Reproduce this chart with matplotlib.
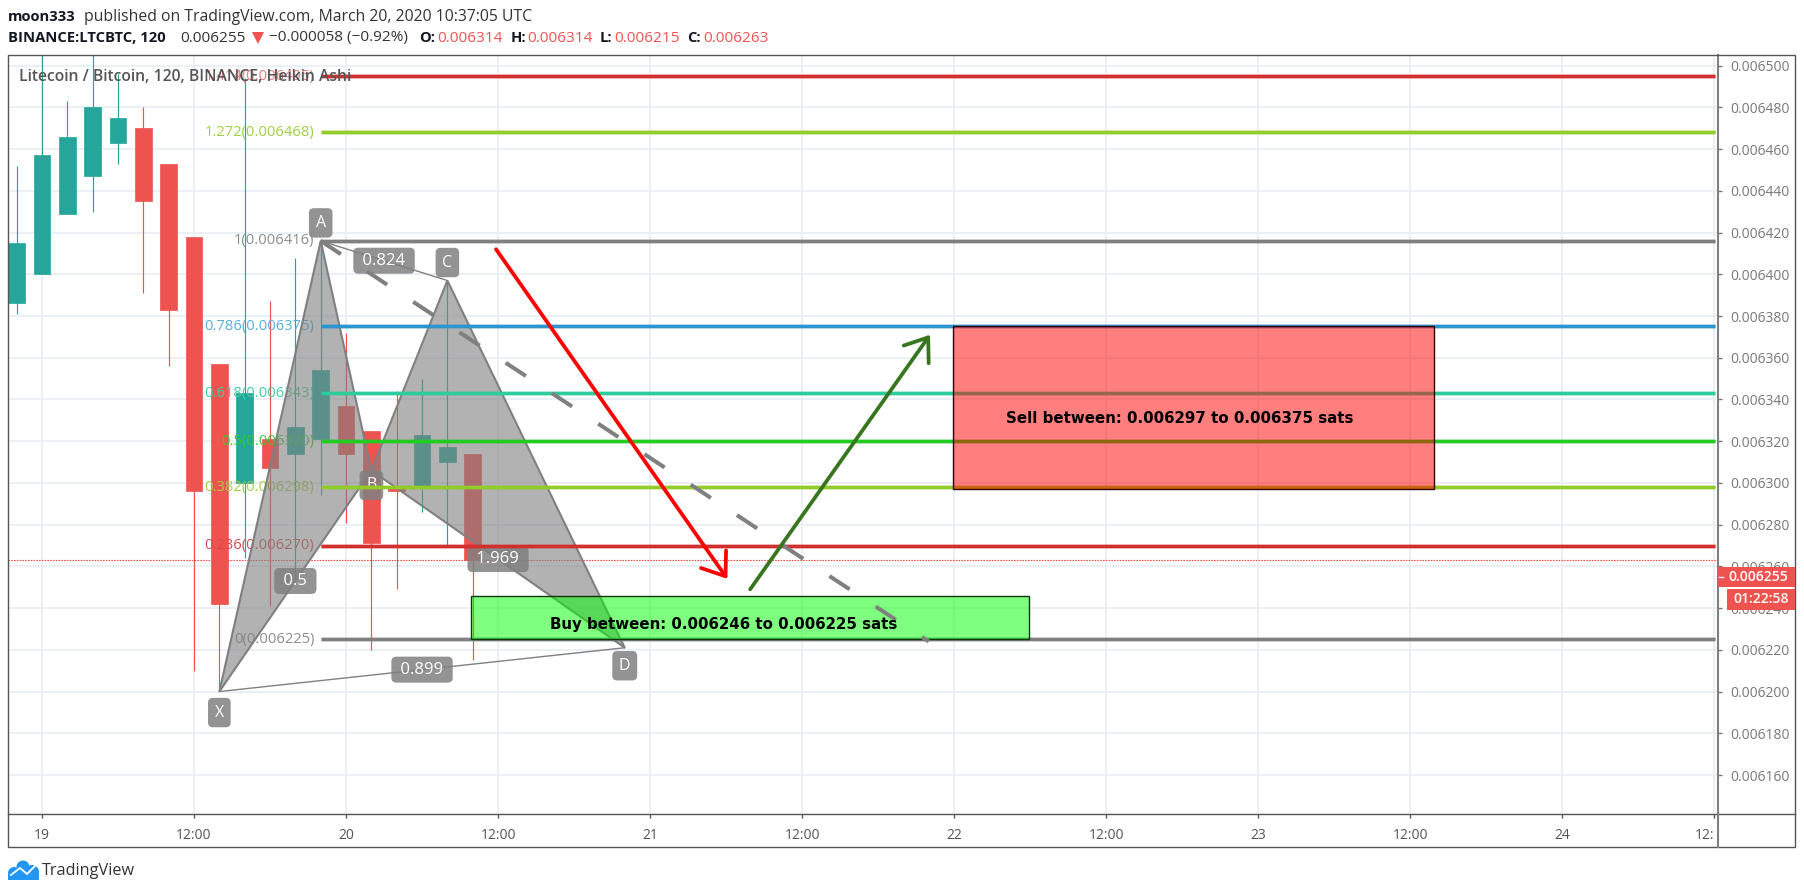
import matplotlib
matplotlib.use('Agg')
import matplotlib.pyplot as plt
from matplotlib.patches import Rectangle, Polygon, Circle
from matplotlib.lines import Line2D
from matplotlib.transforms import Affine2D

# candles, x is hours after 19 March 00:00
hours = [-2, 0, 2, 4, 6, 8, 10, 12, 14, 16, 18, 20, 22, 24, 26, 28, 30, 32, 34]
opens = [0.006386, 0.006400, 0.006429, 0.006447, 0.006463, 0.006470, 0.006453, 0.006418, 0.006357, 0.006300,
         0.006321, 0.006314, 0.006321, 0.006337, 0.006325, 0.006298, 0.006298, 0.006310, 0.006314]
closes = [0.006415, 0.006457, 0.006466, 0.006480, 0.006475, 0.006435, 0.006383, 0.006296, 0.006242, 0.006343,
          0.006307, 0.006327, 0.006354, 0.006314, 0.006271, 0.006296, 0.006323, 0.006317, 0.006263]
highs = [0.006452, 0.006520, 0.006483, 0.006520, 0.006496, 0.006480, 0.006453, 0.006418, 0.006357, 0.006494,
         0.006387, 0.006408, 0.006417, 0.006372, 0.006325, 0.006344, 0.006350, 0.006397, 0.006314]
lows = [0.006381, 0.006400, 0.006429, 0.006430, 0.006453, 0.006391, 0.006356, 0.006210, 0.006201, 0.006264,
        0.006241, 0.006251, 0.006294, 0.006281, 0.006220, 0.006249, 0.006286, 0.006270, 0.006215]

# fib levels
fib_ratios = ['1.414', '1.272', '1', '0.786', '0.618', '0.5', '0.382', '0.236', '0']
fib_prices = [0.006495, 0.006468, 0.006416, 0.006375, 0.006343, 0.006320, 0.006298, 0.006270, 0.006225]
fib_start = 22

# harmonic pattern points
pattern_names = ['X', 'A', 'B', 'C', 'D']
pattern_hours = [14, 22, 26, 32, 46]
pattern_prices = [0.006200, 0.006416, 0.006306, 0.006397, 0.006221]

# boxes and arrows
sell_zone = [71.9, 109.9, 0.006297, 0.006375]
buy_zone = [33.9, 77.9, 0.006225, 0.006246]
red_arrow = [35.84, 0.006412, 54.1, 0.006254]
green_arrow = [55.9, 0.006249, 70.1, 0.006371]
dash_line = [22, 0.006416, 70.0, 0.006224]
last_close = 0.006263

price_ticks = [0.00616, 0.00618, 0.00620, 0.00622, 0.00624, 0.00626, 0.00628, 0.00630, 0.00632, 0.00634,
               0.00636, 0.00638, 0.00640, 0.00642, 0.00644, 0.00646, 0.00648, 0.00650]
time_ticks = [0, 12, 24, 36, 48, 60, 72, 84, 96, 108, 120, 132]
time_labels = ['19', '12:00', '20', '12:00', '21', '12:00', '22', '12:00', '23', '12:00', '24', '12:']

# colours
teal = '#26a69a'
red = '#ef5350'
fib_colors = ['#d32f2f', '#93cc28', '#808080', '#2c94cf', '#2ecc9a', '#22cc22', '#93cc28', '#d32f2f', '#808080']
label_colors = ['#ea7a7a', '#9ed040', '#8c8c8c', '#55aee0', '#3ccfa0', '#33cc33', '#a4d040', '#d84a4a', '#8c8c8c']
grid_color = '#e6eef5'
font = 'Open Sans'

plt.rcParams['font.family'] = [font, 'DejaVu Sans']

W, H = 1804, 894
fig = plt.figure(figsize=(W / 100, H / 100), dpi=100, facecolor='white')
ax = fig.add_axes([8 / W, (H - 814) / H, 1710 / W, 759 / H])
# pixel coordinates for the page furniture
page = Affine2D().scale(1, -1).translate(0, H)

ax.set_xlim(-2.684, 132.3)
ax.set_ylim(0.00614131, 0.0065051)
ax.set_axisbelow(True)
ax.grid(True, color=grid_color, linewidth=1.2)

# candles
candle_colors = [teal if c >= o else red for o, c in zip(opens, closes)]
ax.vlines(hours, lows, highs, colors=candle_colors, linewidth=0.85, zorder=2)
ax.bar(hours, [abs(c - o) for o, c in zip(opens, closes)], bottom=[min(o, c) for o, c in zip(opens, closes)],
       width=1.3, color=candle_colors, edgecolor=candle_colors, linewidth=0.5, zorder=2)

ax.axhline(last_close, color='#ef5350', linewidth=0.8, linestyle=(0, (1.5, 1)), zorder=2)

# fib labels left of the lines
for ratio, price, col in zip(fib_ratios, fib_prices, label_colors):
    ax.annotate(f'{ratio}({price:.6f})', (fib_start, price), xytext=(-4.5, 0), textcoords='offset points',
                ha='right', va='center', color=col, fontsize=10.6, zorder=3)

# pattern triangles
pts = list(zip(pattern_hours, pattern_prices))
for tri in ([pts[0], pts[1], pts[2]], [pts[2], pts[3], pts[4]]):
    ax.add_patch(Polygon(tri, closed=True, facecolor='#808080', alpha=0.6, edgecolor='none', zorder=4))
    ax.add_patch(Polygon(tri, closed=True, fill=False, edgecolor='#808080', linewidth=1.5, zorder=4))
ax.plot([pts[0][0], pts[4][0]], [pts[0][1], pts[4][1]], color='#808080', linewidth=1, zorder=4)
ax.plot([pts[1][0], pts[3][0]], [pts[1][1], pts[3][1]], color='#808080', linewidth=1, zorder=4)

# letter and ratio tags
letter_box = dict(boxstyle='round,pad=0.42,rounding_size=0.3', facecolor='#808080', alpha=0.85, edgecolor='none')
tag_box = dict(boxstyle='round,pad=0.3,rounding_size=0.3', facecolor='#808080', alpha=0.85, edgecolor='none')
offsets = {'X': -21, 'A': 18, 'B': -15, 'C': 18, 'D': -18}
for name, x, y in zip(pattern_names, pattern_hours, pattern_prices):
    ax.annotate(name, (x, y), xytext=(0, offsets[name] * 0.72), textcoords='offset points', ha='center',
                va='center', color='white', fontsize=11.5, bbox=letter_box, zorder=4.5)


def mid_tag(a, b, txt):
    ax.text((pts[a][0] + pts[b][0]) / 2, (pts[a][1] + pts[b][1]) / 2, ' ' + txt + ' ', ha='center', va='center',
            color='white', fontsize=12, bbox=tag_box, zorder=4.5)


mid_tag(1, 3, '0.824')
mid_tag(0, 2, '0.5')
mid_tag(2, 4, '1.969')
mid_tag(0, 4, '0.899')

# fib lines
ax.hlines(fib_prices, fib_start, 132.05, colors=fib_colors, linewidth=3.4, alpha=0.35, zorder=5)
ax.hlines(fib_prices, fib_start, 132.05, colors=fib_colors, linewidth=2.3, zorder=5)

# zones
ax.add_patch(Rectangle((sell_zone[0], sell_zone[2]), sell_zone[1] - sell_zone[0], sell_zone[3] - sell_zone[2],
                       facecolor=(1, 0, 0, 0.5), edgecolor='#3a0000', linewidth=1, zorder=6))
ax.add_patch(Rectangle((buy_zone[0], buy_zone[2]), buy_zone[1] - buy_zone[0], buy_zone[3] - buy_zone[2],
                       facecolor=(0, 1, 0, 0.5), edgecolor='#0a3a0a', linewidth=1, zorder=6))
ax.text(89.8, 0.006331, 'Sell between: 0.006297 to 0.006375 sats', ha='center', va='center', color='black',
        fontsize=10.85, fontweight='bold', family='DejaVu Sans', zorder=7)
ax.text(53.84, 0.006232, 'Buy between: 0.006246 to 0.006225 sats', ha='center', va='center', color='black',
        fontsize=10.85, fontweight='bold', family='DejaVu Sans', zorder=7)

# dashed line and arrows
ax.plot([dash_line[0], dash_line[2]], [dash_line[1], dash_line[3]], color='#808080', linewidth=2.9,
        linestyle=(0, (6, 7.75)), dash_capstyle='butt', zorder=6.5)
for arr, col in ((red_arrow, '#ff0000'), (green_arrow, '#38761d')):
    ax.annotate('', xy=(arr[2], arr[3]), xytext=(arr[0], arr[1]),
                arrowprops=dict(arrowstyle='->,head_length=15,head_width=11', mutation_scale=1, color=col,
                                linewidth=2.7, shrinkA=0, shrinkB=0), zorder=7)

ax.text(19, 77, 'Litecoin / Bitcoin, 120, BINANCE, Heikin Ashi', transform=page, ha='left', va='center',
        color='#555555', fontsize=11.3, fontweight='semibold', zorder=8)

# axes
ax.set_yticks(price_ticks)
ax.set_yticklabels([f'{p:.6f}' for p in price_ticks])
ax.set_xticks(time_ticks)
ax.set_xticklabels(time_labels)
ax.yaxis.tick_right()
ax.tick_params(axis='y', length=3, width=1, color='#777777', labelcolor='#787878', labelsize=10, pad=5.5)
ax.tick_params(axis='x', length=3, width=1, color='#555555', labelcolor='#555555', labelsize=10, pad=7)
ax.get_xticklabels()[-1].set_ha('right')
for s in ('left', 'top', 'bottom'):
    ax.spines[s].set_visible(False)
ax.spines['right'].set_color('#808080')
ax.spines['right'].set_linewidth(1.5)

# outer frame and the time axis rule
fig.add_artist(Rectangle((8, 55), 1787, 792, transform=page, fill=False, edgecolor='#555555', linewidth=1, zorder=5))
fig.add_artist(Line2D([8, 1795], [814, 814], transform=page, color='#555555', linewidth=1, zorder=5))
fig.add_artist(Line2D([1718, 1718], [814, 847], transform=page, color='#808080', linewidth=1.5, zorder=5))

# last price tags
fig.add_artist(Rectangle((1718, 567), 77, 20, transform=page, facecolor=red, edgecolor='none', zorder=6))
fig.add_artist(Rectangle((1727, 589), 68, 21, transform=page, facecolor=red, edgecolor='none', zorder=6))
fig.add_artist(Line2D([1719, 1723], [577, 577], transform=page, color='white', linewidth=1, zorder=7))
fig.text(1758, 577, '0.006255', transform=page, ha='center', va='center', color='white', fontsize=10,
         fontweight='semibold', zorder=7)
fig.text(1761, 599, '01:22:58', transform=page, ha='center', va='center', color='white', fontsize=10,
         fontweight='semibold', zorder=7)

# header
head = [(8, 17, 'moon333', '#131722', 'bold', 10.6),
        (84, 17, 'published on TradingView.com, March 20, 2020 10:37:05 UTC', '#333333', 'normal', 11.3),
        (8, 38, 'BINANCE:LTCBTC, 120', '#131722', 'bold', 10.6), (180, 38, '0.006255', '#333333', 'normal', 11.1),
        (269, 38, '\u22120.000058 (\u22120.92%)', '#333333', 'normal', 11.1),
        (419, 38, 'O:', '#131722', 'bold', 10.6), (437, 38, '0.006314', red, 'normal', 11.1),
        (511, 38, 'H:', '#131722', 'bold', 10.6), (527, 38, '0.006314', red, 'normal', 11.1),
        (600, 38, 'L:', '#131722', 'bold', 10.6), (614, 38, '0.006215', red, 'normal', 11.1),
        (687, 38, 'C:', '#131722', 'bold', 10.6), (703, 38, '0.006263', red, 'normal', 11.1)]
for x, y, txt, col, wt, size in head:
    fig.text(x, y, txt, transform=page, ha='left', va='center', color=col, fontsize=size, fontweight=wt)
fig.add_artist(Polygon([(252, 32), (264, 32), (258, 44)], transform=page, facecolor=red, edgecolor='none'))

# TradingView logo
logo_blue = '#2196f3'
for cx, cy, r in ((14, 873, 6), (23, 867, 6.5), (32, 872, 7)):
    fig.add_artist(Circle((cx, cy), r, transform=page, facecolor=logo_blue, edgecolor='none'))
fig.add_artist(Rectangle((8, 873), 31, 7, transform=page, facecolor=logo_blue, edgecolor='none'))
fig.add_artist(Line2D([11, 20, 27, 35], [875, 868, 874, 866], transform=page, color='white', linewidth=1.3))
fig.text(42, 871, 'TradingView', transform=page, ha='left', va='center', color='#333333', fontsize=11.7)

fig.savefig('out.png', dpi=100)
